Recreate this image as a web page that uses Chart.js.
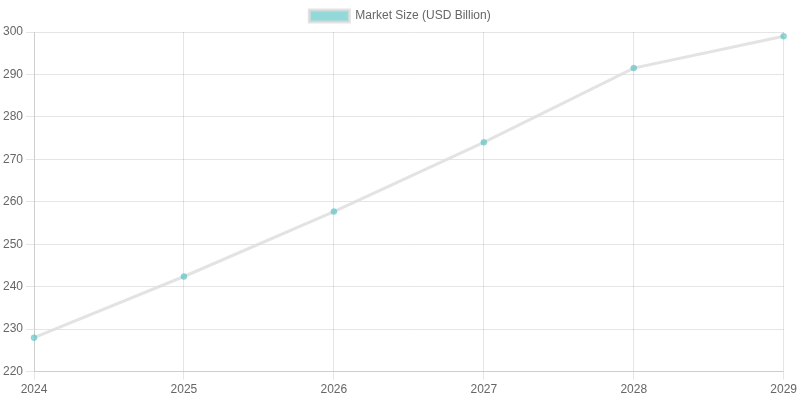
<!DOCTYPE html>
<html><head><meta charset="utf-8">
<script src="https://cdn.jsdelivr.net/npm/chart.js@4"></script>
<style>html,body{margin:0;padding:0;background:#fff}#w{width:800px;height:400px}</style>
</head><body><div id="w"><canvas id="c"></canvas></div>
<script>
const years = ['2024','2025','2026','2027','2028','2029'];
const marketSize = [228, 242.4, 257.7, 274, 291.5, 299];
new Chart(document.getElementById('c'), {
  type: 'line',
  data: { labels: years, datasets: [{
    label: 'Market Size (USD Billion)',
    data: marketSize,
    backgroundColor: 'rgba(75,192,192,0.6)',
    borderColor: 'rgba(220,220,220,0.8)',
    borderWidth: 3,
    pointBackgroundColor: 'rgba(75,192,192,0.6)',
    pointBorderColor: 'rgba(75,192,192,0.3)',
    pointBorderWidth: 1,
    pointRadius: 3,
    fill: false,
    tension: 0
  }]},
  options: {
    responsive: true, maintainAspectRatio: false, animation: false,
    scales: { y: { min: 220, max: 300, ticks: { stepSize: 10 } } }
  }
});
</script></body></html>
